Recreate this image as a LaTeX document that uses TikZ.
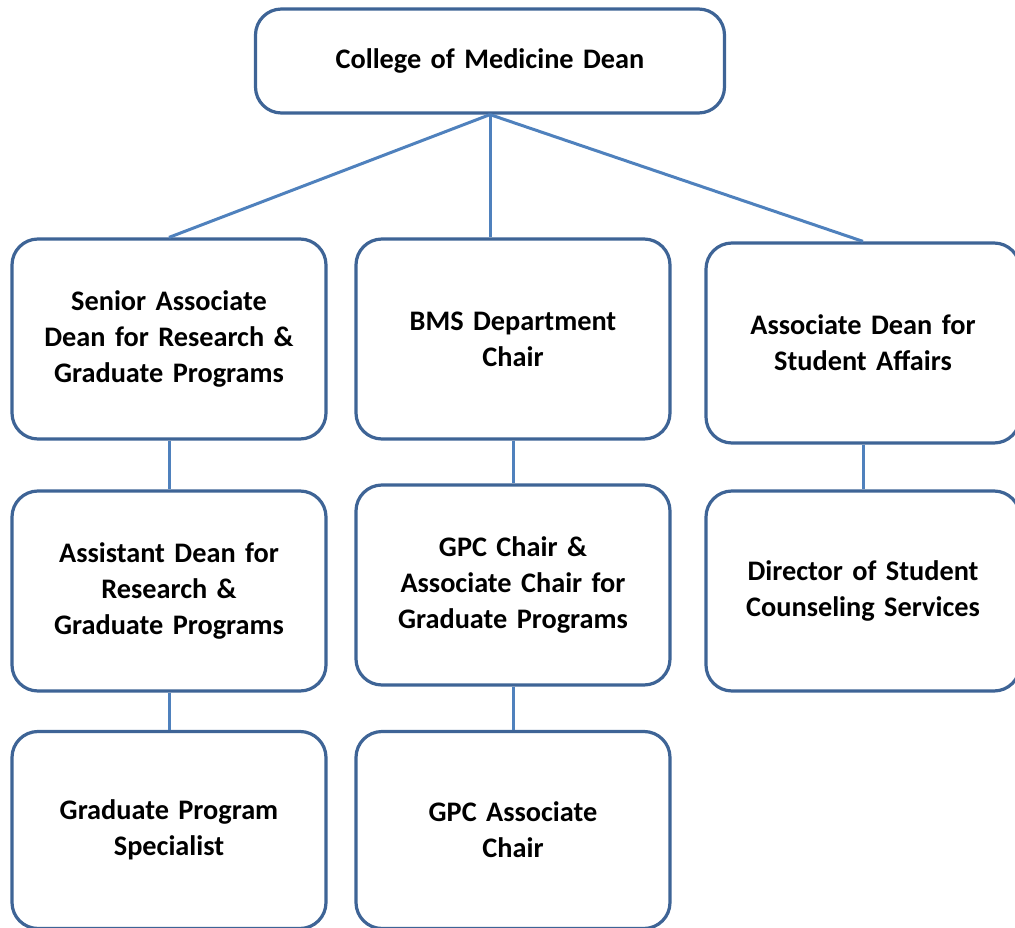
\documentclass[tikz,border=0pt]{standalone}
\usepackage{fontspec}
\setmainfont{Carlito}
\usetikzlibrary{positioning}
\definecolor{boxblue}{RGB}{62,100,150}
\definecolor{linkblue}{RGB}{79,129,189}

\begin{document}
\begin{tikzpicture}[x=1pt, y=-1pt,
    office/.style={draw=boxblue, line width=3.2pt, rounded corners=26pt, fill=white,
      align=center, text width=305pt, minimum width=314pt, minimum height=200pt,
      inner sep=0pt, font=\fontsize{28.3}{36}\selectfont\bfseries},
    link/.style={draw=linkblue, line width=3pt}]
\useasboundingbox (0,0) rectangle (1015,928);

\node[office, minimum width=469pt, minimum height=104pt, text width=450pt] (dean) at (490,61) {College of Medicine Dean};

\node[office] (senior) at (169,339) {Senior Associate\\ Dean for Research \&\\ Graduate Programs};
\node[office] (bms) at (513,339) {BMS Department\\ Chair};
\node[office] (student) at (863,343) {Associate Dean for\\ Student Affairs};

\node[office] (assistant) at (169,591) {Assistant Dean for\\ Research \&\\ Graduate Programs};
\node[office] (gpc) at (513,585) {GPC Chair \&\\ Associate Chair for\\ Graduate Programs};
\node[office] (counsel) at (863,591) {Director of Student\\ Counseling Services};

\node[office, minimum height=197pt] (specialist) at (169,830) {Graduate Program\\ Specialist};
\node[office, minimum height=197pt] (gpcassoc) at (513,830) {GPC Associate\\ Chair};

\path[link]
  (dean.south) edge (senior.north)
  (dean.south) edge (dean.south |- bms.north)
  (dean.south) edge (student.north);

\path[link]
  (senior) edge (assistant)
  (assistant) edge (specialist)
  (bms) edge (gpc)
  (gpc) edge (gpcassoc)
  (student) edge (counsel);
\end{tikzpicture}
\end{document}
